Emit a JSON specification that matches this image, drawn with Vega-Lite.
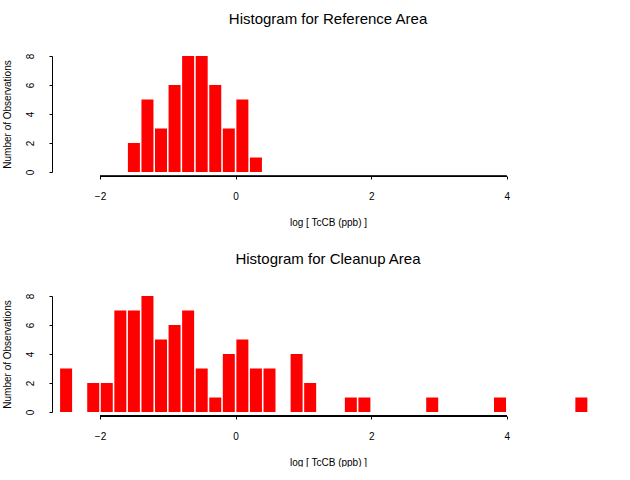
{
  "$schema": "https://vega.github.io/schema/vega-lite/v6.json",
  "background": "white",
  "padding": {"left": 2, "top": 12, "right": 0, "bottom": 0},
  "spacing": 25,
  "datasets": {
    "reference": [
      {"mid": -1.5, "count": 2},
      {"mid": -1.3, "count": 5},
      {"mid": -1.1, "count": 3},
      {"mid": -0.9, "count": 6},
      {"mid": -0.7, "count": 8},
      {"mid": -0.5, "count": 8},
      {"mid": -0.3, "count": 6},
      {"mid": -0.1, "count": 3},
      {"mid": 0.1, "count": 5},
      {"mid": 0.3, "count": 1}
    ],
    "cleanup": [
      {"mid": -2.5, "count": 3},
      {"mid": -2.1, "count": 2},
      {"mid": -1.9, "count": 2},
      {"mid": -1.7, "count": 7},
      {"mid": -1.5, "count": 7},
      {"mid": -1.3, "count": 8},
      {"mid": -1.1, "count": 5},
      {"mid": -0.9, "count": 6},
      {"mid": -0.7, "count": 7},
      {"mid": -0.5, "count": 3},
      {"mid": -0.3, "count": 1},
      {"mid": -0.1, "count": 4},
      {"mid": 0.1, "count": 5},
      {"mid": 0.3, "count": 3},
      {"mid": 0.5, "count": 3},
      {"mid": 0.9, "count": 4},
      {"mid": 1.1, "count": 2},
      {"mid": 1.7, "count": 1},
      {"mid": 1.9, "count": 1},
      {"mid": 2.9, "count": 1},
      {"mid": 3.9, "count": 1},
      {"mid": 5.1, "count": 1}
    ]
  },
  "vconcat": [
    {
      "title": {"text": "Histogram for Reference Area"},
      "width": 552,
      "height": 116,
      "data": {"name": "reference"},
      "layer": [
        {
          "mark": {"type": "bar", "color": "#ff0000", "width": 12},
          "encoding": {
            "x": {"field": "mid", "type": "quantitative", "scale": {"domain": [-2.708, 5.434], "nice": false, "zero": false, "padding": 0}, "axis": {"values": [-2, 0, 2, 4], "format": "d", "title": "log [ TcCB (ppb) ]", "offset": 4, "domain": false}},
            "y": {"field": "count", "type": "quantitative", "scale": {"domain": [0, 8], "nice": false, "padding": 0}, "axis": {"values": [0, 2, 4, 6, 8], "format": "d", "labelOverlap": false, "title": "Number of Observations"}}
          }
        },
        {
          "mark": {"type": "rule", "color": "black"},
          "encoding": {
            "x": {"datum": -2, "type": "quantitative", "axis": {"values": [-2, 0, 2, 4], "format": "d", "title": "log [ TcCB (ppb) ]", "offset": 4, "domain": false}},
            "x2": {"datum": 4},
            "y": {"datum": -0.3, "type": "quantitative", "axis": {"values": [0, 2, 4, 6, 8], "format": "d", "labelOverlap": false, "title": "Number of Observations"}}
          }
        }
      ]
    },
    {
      "title": {"text": "Histogram for Cleanup Area"},
      "width": 552,
      "height": 116,
      "data": {"name": "cleanup"},
      "layer": [
        {
          "mark": {"type": "bar", "color": "#ff0000", "width": 12},
          "encoding": {
            "x": {"field": "mid", "type": "quantitative", "scale": {"domain": [-2.708, 5.434], "nice": false, "zero": false, "padding": 0}, "axis": {"values": [-2, 0, 2, 4], "format": "d", "title": "log [ TcCB (ppb) ]", "offset": 4, "domain": false}},
            "y": {"field": "count", "type": "quantitative", "scale": {"domain": [0, 8], "nice": false, "padding": 0}, "axis": {"values": [0, 2, 4, 6, 8], "format": "d", "labelOverlap": false, "title": "Number of Observations"}}
          }
        },
        {
          "mark": {"type": "rule", "color": "black"},
          "encoding": {
            "x": {"datum": -2, "type": "quantitative", "axis": {"values": [-2, 0, 2, 4], "format": "d", "title": "log [ TcCB (ppb) ]", "offset": 4, "domain": false}},
            "x2": {"datum": 4},
            "y": {"datum": -0.3, "type": "quantitative", "axis": {"values": [0, 2, 4, 6, 8], "format": "d", "labelOverlap": false, "title": "Number of Observations"}}
          }
        }
      ]
    }
  ],
  "config": {
    "font": "Liberation Sans",
    "view": {"stroke": null},
    "axis": {
      "grid": false,
      "domainColor": "black",
      "tickColor": "black",
      "tickSize": 3,
      "labelFontSize": 10,
      "labelColor": "black",
      "titleFontSize": 10,
      "titleFontWeight": "normal",
      "titleColor": "black"
    },
    "axisY": {"labelAngle": -90, "labelPadding": 14, "titlePadding": 13},
    "axisX": {"labelPadding": 12, "titlePadding": 16},
    "title": {"fontSize": 15, "fontWeight": "normal", "color": "black", "anchor": "middle", "offset": 26}
  }
}
